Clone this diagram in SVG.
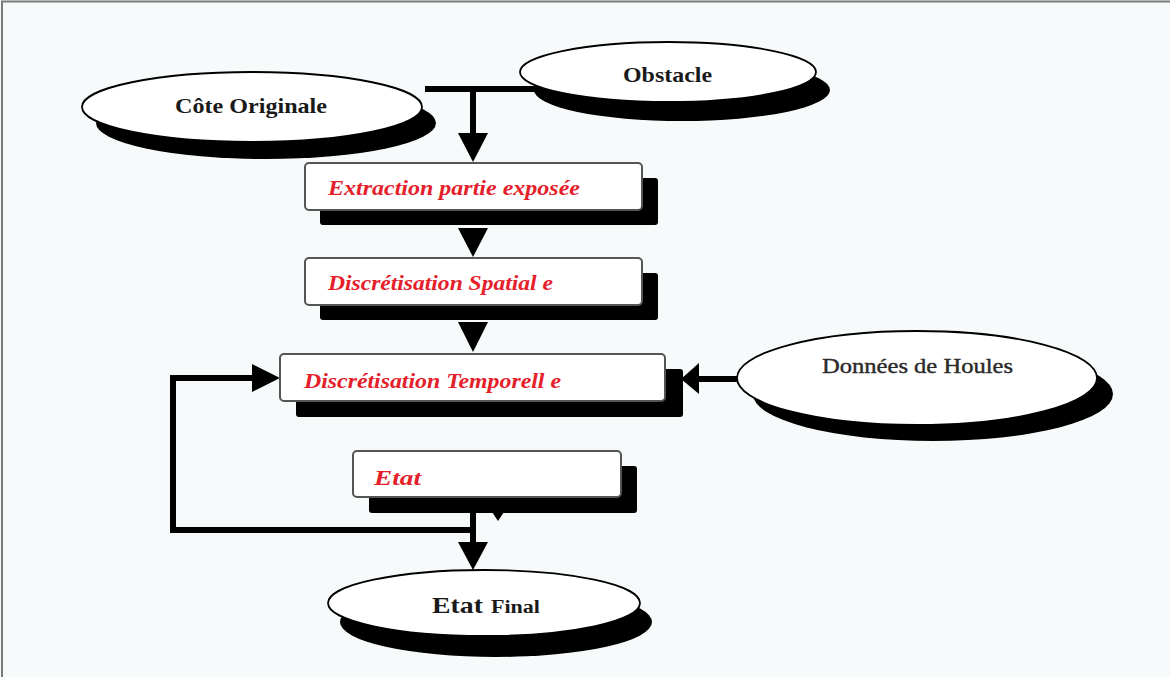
<svg xmlns="http://www.w3.org/2000/svg" width="1170" height="677" viewBox="0 0 1170 677">
<style>
.bg{fill:#f6fafb}
.frame{stroke:#7a7a7a;stroke-width:2;fill:none}
.sh{fill:#000}
.ell{fill:#ffffff;stroke:#000;stroke-width:1.8}
.box{fill:#ffffff;stroke:#555;stroke-width:2}
.line{stroke:#000;stroke-width:6;fill:none}
.head{fill:#000}
.lbl{font-family:"Liberation Serif","Times New Roman",serif;font-weight:bold;fill:#1a1a1a}
.lblr{font-family:"Liberation Serif","Times New Roman",serif;font-weight:bold;font-style:italic;fill:#e5202a;font-size:21px}
</style>
<rect class="bg" x="0" y="0" width="1170" height="677"/>
<path class="frame" d="M2,677 V1.5 H1170"/>

<g id="connectors">
  <line class="line" x1="425" y1="89" x2="545" y2="89"/>
  <line class="line" x1="473" y1="89" x2="473" y2="135"/>
  <polygon class="head" points="458,133 488,133 473,162"/>
  <polygon class="head" points="458,228 488,228 473,257"/>
  <polygon class="head" points="458,322 488,322 473,352"/>
  <line class="line" x1="695" y1="379" x2="750" y2="379"/>
  <polygon class="head" points="681,379 699,363 699,394"/>
  <polyline class="line" points="473,505 473,530 173,530 173,378 255,378"/>
  <polygon class="head" points="252,364 252,392 280,378"/>
  <line class="line" x1="473" y1="528" x2="473" y2="545"/>
  <polygon class="head" points="458,542 488,542 473,570"/>
  <polygon class="head" points="492,512 504,512 498,521"/>
</g>

<g id="node-cote-originale">
  <ellipse class="sh" cx="266" cy="123" rx="170" ry="36"/>
  <ellipse class="ell" cx="252" cy="107" rx="170" ry="35"/>
  <text class="lbl" x="175" y="113" font-size="21" textLength="152" lengthAdjust="spacingAndGlyphs">Côte Originale</text>
</g>

<g id="node-obstacle">
  <ellipse class="sh" cx="682" cy="90" rx="148" ry="31"/>
  <ellipse class="ell" cx="668" cy="72" rx="148" ry="30"/>
  <text class="lbl" x="623" y="82" font-size="21" textLength="89" lengthAdjust="spacingAndGlyphs">Obstacle</text>
</g>

<g id="node-extraction">
  <rect class="sh" x="320" y="178" width="338" height="47" rx="3"/>
  <rect class="box" x="305" y="163" width="337" height="47" rx="4"/>
  <text class="lblr" x="328" y="195" textLength="252" lengthAdjust="spacingAndGlyphs">Extraction partie exposée</text>
</g>

<g id="node-spatiale">
  <rect class="sh" x="320" y="273" width="338" height="47" rx="3"/>
  <rect class="box" x="305" y="258" width="337" height="47" rx="4"/>
  <text class="lblr" x="328" y="290" textLength="225" lengthAdjust="spacingAndGlyphs">Discrétisation Spatial e</text>
</g>

<g id="node-temporelle">
  <rect class="sh" x="296" y="369" width="387" height="48" rx="3"/>
  <rect class="box" x="280" y="354" width="385" height="47" rx="4"/>
  <text class="lblr" x="304" y="388" textLength="257" lengthAdjust="spacingAndGlyphs">Discrétisation Temporell e</text>
</g>

<g id="node-donnees-houles">
  <ellipse class="sh" cx="933" cy="394" rx="180" ry="47"/>
  <ellipse class="ell" cx="917" cy="378" rx="180" ry="47"/>
  <text x="822" y="373" font-family="Liberation Serif, Times New Roman, serif" font-size="22" fill="#2a2a2a" stroke="#2a2a2a" stroke-width="0.4" textLength="191" lengthAdjust="spacingAndGlyphs">Données de Houles</text>
</g>

<g id="node-etat">
  <rect class="sh" x="369" y="466" width="268" height="47" rx="3"/>
  <rect class="box" x="353" y="451" width="268" height="46" rx="4"/>
  <text class="lblr" x="374" y="485" textLength="47" lengthAdjust="spacingAndGlyphs">Etat</text>
</g>

<g id="node-etat-final">
  <ellipse class="sh" cx="496" cy="622" rx="156" ry="35"/>
  <ellipse class="ell" cx="484" cy="603" rx="156" ry="33"/>
  <text class="lbl" y="613"><tspan x="432" font-size="23" textLength="51" lengthAdjust="spacingAndGlyphs">Etat</tspan><tspan x="491" font-size="18" textLength="49" lengthAdjust="spacingAndGlyphs">Final</tspan></text>
</g>
</svg>
